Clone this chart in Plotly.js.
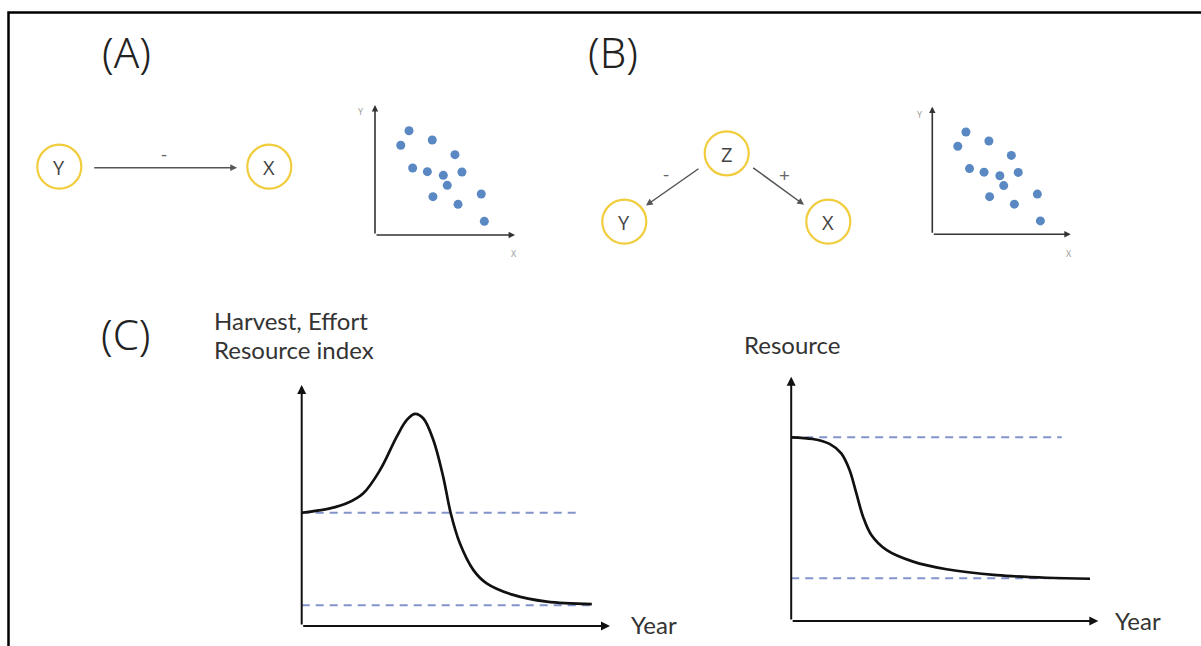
<!DOCTYPE html>
<html>
<head>
<meta charset="utf-8">
<script src="https://cdn.plot.ly/plotly-3.0.1.min.js"></script>
<style>html,body{margin:0;padding:0;background:#fff;}#chart{width:1201px;height:646px;}</style>
</head>
<body>
<div id="chart"></div>
<script>
// ---------------- DATA ----------------
// Scatter points (same pattern used in panels A and B), axis units 0-10
var scatterX = [2.43, 1.84, 4.09, 5.71, 2.69, 3.74, 4.88, 6.21, 5.16, 4.14, 7.59, 5.93, 7.81];
var scatterY = [8.02, 6.90, 7.31, 6.18, 5.15, 4.87, 4.59, 4.85, 3.82, 2.95, 3.15, 2.36, 1.05];

// Panel C left: Harvest / Effort / Resource index over years
var harvestYear  = [0, 0.92, 1.46, 2.00, 2.54, 3.08, 3.41, 3.67, 3.94, 4.27, 4.59, 4.83, 5.13, 5.57, 6.00, 6.86, 7.95, 9.41];
var harvestIndex = [4.70, 4.88, 5.09, 5.51, 6.47, 7.85, 8.55, 8.80, 8.62, 7.72, 6.19, 4.70, 3.43, 2.32, 1.77, 1.29, 1.01, 0.91];
var harvestRefLevels = [4.70, 0.86];
var harvestRefEnds   = [8.92, 9.41];

// Panel C right: Resource over years
var resourceYear  = [0, 0.70, 1.25, 1.63, 1.90, 2.12, 2.34, 2.61, 3.10, 3.97, 5.06, 6.69, 8.32, 9.73];
var resourceIndex = [7.52, 7.45, 7.25, 6.86, 6.18, 5.23, 4.27, 3.52, 2.91, 2.43, 2.12, 1.88, 1.77, 1.73];
var resourceRefLevels = [7.52, 1.75];
var resourceRefEnds   = [8.81, 8.81];

// Texts
var panelLabels = ["(A)", "(B)", "(C)"];
var nodeLabels = ["Y", "X", "Z", "Y", "X"];
var signLabels = ["-", "-", "+"];
var yTitleLeft = ["Harvest, Effort", "Resource index"];
var yTitleRight = "Resource";
var xTitle = "Year";

// ---------------- LAYOUT HELPERS ----------------
var W = 1201, H = 646;
function dom(x0, x1, yTop, yBot) {
  return {x: [x0 / W, x1 / W], y: [1 - yBot / H, 1 - yTop / H]};
}
function hidden(d, r) {
  return {domain: d, range: r, visible: false, fixedrange: true, showgrid: false, zeroline: false};
}

var dA = dom(375, 515, 105, 235);
var dB = dom(932.3, 1070.7, 106.7, 234.3);
var dC1 = dom(301.7, 610, 385, 626);
var dC2 = dom(791.2, 1098.3, 376.7, 621);

var dotColor = "#5a88c2";
var dashColor = "#8294cb";
var yellow = "#f1cd3e";
var baseFont = "Lato, 'Open Sans', sans-serif";

var traces = [];
// scatter A and B
traces.push({x: scatterX, y: scatterY, xaxis: "x2", yaxis: "y2", type: "scatter", mode: "markers",
  marker: {size: 9, color: dotColor}, hoverinfo: "skip"});
traces.push({x: scatterX, y: scatterY, xaxis: "x3", yaxis: "y3", type: "scatter", mode: "markers",
  marker: {size: 9, color: dotColor}, hoverinfo: "skip"});

// dashed reference lines
function refTraces(levels, ends, xa, ya) {
  levels.forEach(function (lv, i) {
    traces.push({x: [0, ends[i]], y: [lv, lv], xaxis: xa, yaxis: ya, type: "scatter", mode: "lines",
      line: {color: dashColor, width: 2, dash: "8px,6px"}, hoverinfo: "skip"});
  });
}
refTraces(harvestRefLevels, harvestRefEnds, "x4", "y4");
refTraces(resourceRefLevels, resourceRefEnds, "x5", "y5");

traces.push({x: harvestYear, y: harvestIndex, xaxis: "x4", yaxis: "y4", type: "scatter", mode: "lines",
  line: {color: "#111", width: 2.7, shape: "spline", smoothing: 1}, hoverinfo: "skip"});
traces.push({x: resourceYear, y: resourceIndex, xaxis: "x5", yaxis: "y5", type: "scatter", mode: "lines",
  line: {color: "#111", width: 2.7, shape: "spline", smoothing: 1}, hoverinfo: "skip"});

// ---------------- SHAPES & ANNOTATIONS ----------------
var shapes = [];
var ann = [];

// frame
shapes.push({type: "path", xref: "x", yref: "y", path: "M 8.5,646 L 8.5,12.5 L 1201,12.5",
  line: {color: "#000", width: 2.5}});

// panel labels
var panelPos = [[126, 51], [613, 51], [126, 333]];
panelLabels.forEach(function (t, i) {
  ann.push({xref: "x", yref: "y", x: panelPos[i][0], y: panelPos[i][1], text: t, showarrow: false,
    xanchor: "center", yanchor: "middle",
    font: {family: "'Noto Sans', sans-serif", size: 42, weight: 300, color: "#222"}});
});

// nodes
var nodePos = [[59.3, 166.7], [269.3, 166.7], [726.7, 153.3], [624.3, 221.7], [828.3, 221.7]];
var R = 22;
nodeLabels.forEach(function (t, i) {
  var c = nodePos[i];
  shapes.push({type: "circle", xref: "x", yref: "y", x0: c[0] - R, x1: c[0] + R, y0: c[1] - R, y1: c[1] + R,
    line: {color: yellow, width: 2.2}, fillcolor: "#fff"});
  ann.push({xref: "x", yref: "y", x: c[0], y: c[1] + 1, text: t, showarrow: false, xanchor: "center", yanchor: "middle",
    font: {family: "'Open Sans', sans-serif", size: 20, color: "#444"}});
});

// diagram arrows [tailX, tailY, headX, headY]
var arrows = [[92.7, 167.7, 237, 167.7], [700, 167.7, 646, 205.5], [751.7, 166.7, 804, 204.8]];
arrows.forEach(function (a) {
  ann.push({xref: "x", yref: "y", axref: "x", ayref: "y", x: a[2], y: a[3], ax: a[0], ay: a[1], text: "",
    showarrow: true, arrowhead: 2, arrowsize: 0.9, arrowwidth: 1.5, arrowcolor: "#555", standoff: 0, startstandoff: 0});
});
var signPos = [[164.3, 154], [666, 174], [784, 175]];
signLabels.forEach(function (t, i) {
  ann.push({xref: "x", yref: "y", x: signPos[i][0], y: signPos[i][1], text: t, showarrow: false,
    xanchor: "center", yanchor: "middle", font: {family: "'Open Sans', sans-serif", size: 19, color: "#666"}});
});

// axis arrows for sub-plots
function axisArrows(xa, ya, color, width, size) {
  ann.push({xref: xa, yref: ya, axref: xa, ayref: ya, x: 0, y: 10, ax: 0, ay: 0, text: "", showarrow: true,
    arrowhead: 2, arrowsize: size, arrowwidth: width, arrowcolor: color, standoff: 0});
  ann.push({xref: xa, yref: ya, axref: xa, ayref: ya, x: 10, y: 0, ax: 0, ay: 0, text: "", showarrow: true,
    arrowhead: 2, arrowsize: size, arrowwidth: width, arrowcolor: color, standoff: 0});
}
axisArrows("x2", "y2", "#333", 1.6, 0.8);
axisArrows("x3", "y3", "#333", 1.6, 0.8);
axisArrows("x4", "y4", "#111", 2, 0.9);
axisArrows("x5", "y5", "#111", 2, 0.9);

// tiny axis letters on scatter plots
var tinyPos = [[361, 111, "Y"], [514, 253, "X"], [920, 114, "Y"], [1069, 253, "X"]];
tinyPos.forEach(function (p) {
  ann.push({xref: "x", yref: "y", x: p[0], y: p[1], text: p[2], showarrow: false, xanchor: "center", yanchor: "middle",
    font: {family: "'Open Sans', sans-serif", size: 9, color: "#999"}});
});

// C titles
ann.push({xref: "x", yref: "y", x: 212, y: 320, text: yTitleLeft[0], showarrow: false, xanchor: "left", yanchor: "middle",
  font: {family: baseFont, size: 24, color: "#333"}});
ann.push({xref: "x", yref: "y", x: 212, y: 349.5, text: yTitleLeft[1], showarrow: false, xanchor: "left", yanchor: "middle",
  font: {family: baseFont, size: 24, color: "#333"}});
ann.push({xref: "x", yref: "y", x: 742, y: 344.5, text: yTitleRight, showarrow: false, xanchor: "left", yanchor: "middle",
  font: {family: baseFont, size: 24, color: "#333"}});
ann.push({xref: "x", yref: "y", x: 629, y: 624, text: xTitle, showarrow: false, xanchor: "left", yanchor: "middle",
  font: {family: baseFont, size: 24, color: "#333"}});
ann.push({xref: "x", yref: "y", x: 1113, y: 620.5, text: xTitle, showarrow: false, xanchor: "left", yanchor: "middle",
  font: {family: baseFont, size: 24, color: "#333"}});

var layout = {
  width: W, height: H, margin: {l: 0, r: 0, t: 0, b: 0, pad: 0},
  paper_bgcolor: "#fff", plot_bgcolor: "rgba(0,0,0,0)", showlegend: false,
  xaxis: hidden([0, 1], [0, W]), yaxis: hidden([0, 1], [H, 0]),
  xaxis2: hidden(dA.x, [0, 10]), yaxis2: hidden(dA.y, [0, 10]),
  xaxis3: hidden(dB.x, [0, 10]), yaxis3: hidden(dB.y, [0, 10]),
  xaxis4: hidden(dC1.x, [0, 10]), yaxis4: hidden(dC1.y, [0, 10]),
  xaxis5: hidden(dC2.x, [0, 10]), yaxis5: hidden(dC2.y, [0, 10]),
  shapes: shapes, annotations: ann
};
layout.yaxis.anchor = "x";
layout.yaxis2.anchor = "x2"; layout.xaxis2.anchor = "y2";
layout.yaxis3.anchor = "x3"; layout.xaxis3.anchor = "y3";
layout.yaxis4.anchor = "x4"; layout.xaxis4.anchor = "y4";
layout.yaxis5.anchor = "x5"; layout.xaxis5.anchor = "y5";

Plotly.newPlot("chart", traces, layout, {staticPlot: true, displayModeBar: false});
</script>
</body>
</html>
